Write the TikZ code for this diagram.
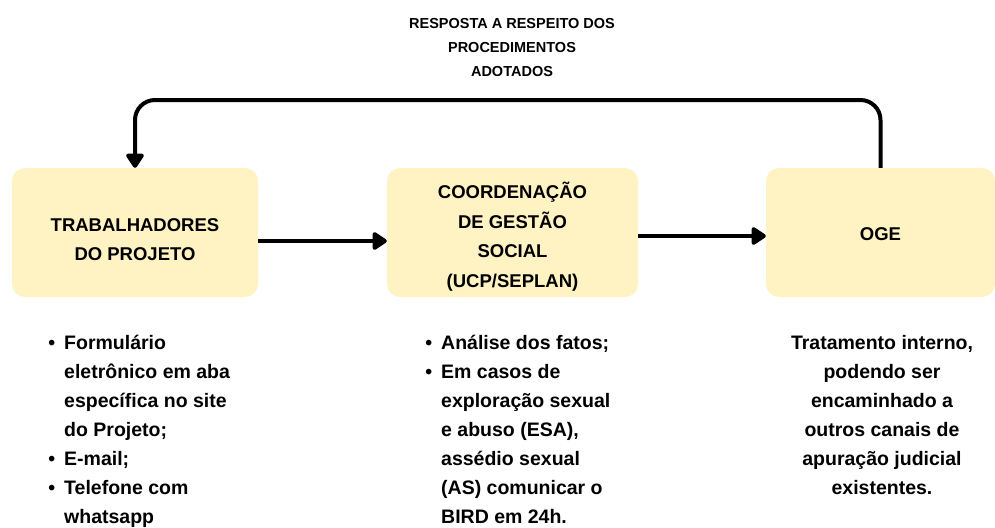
\documentclass[tikz,border=0pt]{standalone}
\usepackage{fontspec}
\setmainfont{Liberation Sans}
\usetikzlibrary{arrows.meta}
\definecolor{boxyellow}{HTML}{FFF3C4}
\newcommand{\bul}{\llap{\textbullet\hspace{9pt}}}
\begin{document}
\begin{tikzpicture}[x=1pt,y=-1pt,
    box/.style={fill=boxyellow,rounded corners=13pt,inner sep=0pt,minimum height=129pt},
    boxtext/.style={align=center,inner sep=0pt,font=\bfseries\fontsize{18.5}{29.5}\selectfont},
    arr/.style={line width=4pt,-{Triangle[width=20pt,length=16pt,round]}},
    list/.style={align=left,anchor=north west,inner sep=0pt,
      font=\bfseries\fontsize{19.5}{29}\selectfont}]
    \useasboundingbox (0,0) rectangle (995,527);
    % boxes
    \node[box,minimum width=246pt] (trab) at (135,232.5) {};
    \node[box,minimum width=251pt] (coord) at (512.5,232.5) {};
    \node[box,minimum width=229pt] (oge) at (880.5,232.5) {};
    \node[boxtext] (trabtext) at ([yshift=-7pt]trab) {TRABALHADORES\\DO PROJETO};
    \node[boxtext] (coordtext) at ([yshift=-4pt]coord) {COORDENAÇÃO\\DE GESTÃO\\SOCIAL\\(UCP/SEPLAN)};
    \node[boxtext] (ogetext) at ([yshift=-1.5pt]oge) {OGE};
    % arrows
    \draw[arr] ([yshift=-8.5pt]trab.east) -- ([yshift=-8.5pt]coord.west);
    \draw[arr] ([yshift=-3.5pt]coord.east) -- ([yshift=-3.5pt]oge.west);
    \coordinate (top) at (510,100);
    \draw[arr,rounded corners=20pt] (oge.north) |- (top) -| (trab.north);
    \node[align=center,font=\bfseries\fontsize{14.5}{24}\selectfont] (resp) at (512,47.5)
      {RESPOSTA A RESPEITO DOS\\PROCEDIMENTOS\\ADOTADOS};
    % texts under the boxes
    \node[list] (canais) at (64,335) {\bul Formulário\\eletrônico em aba\\específica no site\\do Projeto;\\\bul E-mail;\\\bul Telefone com\\whatsapp};
    \node[list] (analise) at (441,335) {\bul Análise dos fatos;\\\bul Em casos de\\exploração sexual\\e abuso (ESA),\\assédio sexual\\(AS) comunicar o\\BIRD em 24h.};
    \node[list,align=center,anchor=north] (trat) at (882,335) {Tratamento interno,\\podendo ser\\encaminhado a\\outros canais de\\apuração judicial\\existentes.};
\end{tikzpicture}
\end{document}
